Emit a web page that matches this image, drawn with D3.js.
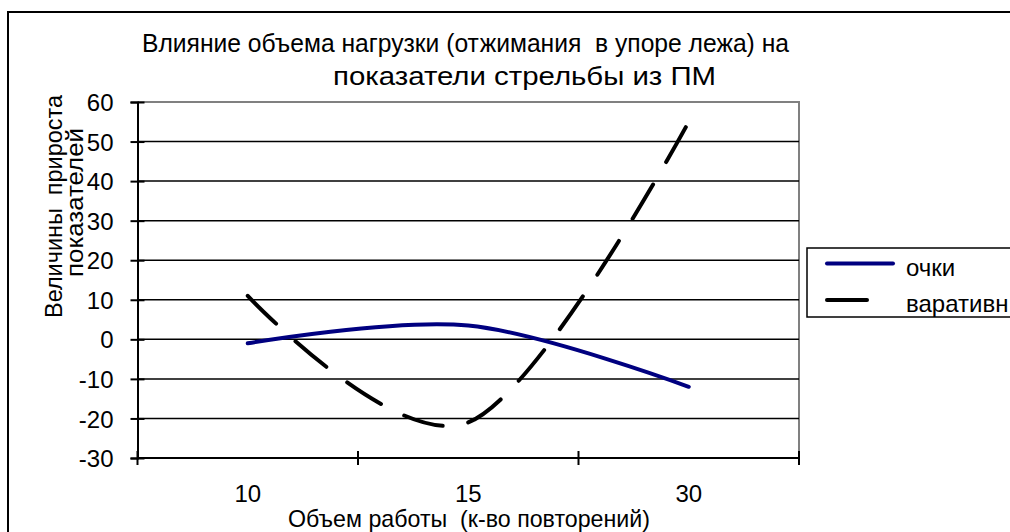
<!DOCTYPE html>
<html>
<head>
<meta charset="utf-8">
<script src="https://cdn.jsdelivr.net/npm/d3@7"></script>
<style>
  html, body { margin: 0; padding: 0; background: #fff; }
  svg { display: block; font-family: "Liberation Sans", Arial, sans-serif; }
  svg text { white-space: pre; }
</style>
</head>
<body>
<svg id="chart" width="1010" height="532"></svg>
<script>
// Categories (number of repetitions) and the two series
const categories = ["10", "15", "30"];
const ochki = [-1, 3.5, -12];
const varativn = [11, -21, 55];
const seriesNames = ["очки", "варативн"];
const yTicks = [-30, -20, -10, 0, 10, 20, 30, 40, 50, 60];

const titleLines = ["Влияние объема нагрузки (отжимания  в упоре лежа) на", "показатели стрельбы из ПМ"];
const yTitleLines = ["Величины  прироста", "показателей"];
const xTitle = "Объем работы  (к-во повторений)";

const svg = d3.select("#chart");

// plot area
const plot = { left: 137.5, right: 799, top: 102, bottom: 458 };

const x = d3.scaleBand().domain(categories).range([plot.left, plot.right]).padding(0);
const y = d3.scaleLinear().domain([-30, 60]).range([plot.bottom, plot.top]);
const cx = c => x(c) + x.bandwidth() / 2;

// outer chart frame
svg.append("rect")
  .attr("x", 8).attr("y", 12)
  .attr("width", 1030).attr("height", 560)
  .attr("fill", "none").attr("stroke", "#000").attr("stroke-width", 2);

// title
const titlePos = [{ x: 142, y: 52, len: 647 }, { x: 333, y: 85, len: 383 }];
svg.selectAll("text.title").data(titleLines).join("text")
  .attr("class", "title")
  .attr("x", (d, i) => titlePos[i].x)
  .attr("y", (d, i) => titlePos[i].y)
  .attr("textLength", (d, i) => titlePos[i].len)
  .attr("lengthAdjust", "spacingAndGlyphs")
  .attr("font-size", 26)
  .attr("fill", "#000")
  .text(d => d);

// plot area frame (grey, top and right)
svg.append("path")
  .attr("d", `M${plot.left},${plot.top}H${plot.right}V${plot.bottom}`)
  .attr("fill", "none").attr("stroke", "#808080").attr("stroke-width", 2);

// horizontal gridlines
svg.append("g")
  .selectAll("line")
  .data(yTicks.filter(t => t > -30 && t < 60))
  .join("line")
  .attr("x1", plot.left).attr("x2", plot.right)
  .attr("y1", d => y(d)).attr("y2", d => y(d))
  .attr("stroke", "#000").attr("stroke-width", 1.5);

// y axis with crossing tick marks
const yAxis = d3.axisLeft(y).tickValues(yTicks).tickSize(7).tickFormat(d => String(d));
const gy = svg.append("g").attr("transform", `translate(${plot.left},0)`).call(yAxis);
gy.select(".domain").attr("stroke", "#000").attr("stroke-width", 2);
gy.selectAll(".tick line").attr("x2", -7).attr("x1", 7).attr("stroke", "#000").attr("stroke-width", 2);
gy.selectAll(".tick text")
  .attr("font-size", 24).attr("font-family", "Liberation Sans, Arial, sans-serif")
  .attr("fill", "#000").attr("x", -24).attr("dy", "0.36em");

// x axis: ticks on category boundaries, labels at category centers
const xBounds = categories.map(c => x(c)).concat([x(categories[categories.length - 1]) + x.bandwidth()]);
const gx = svg.append("g");
gx.append("line")
  .attr("x1", plot.left).attr("x2", plot.right)
  .attr("y1", plot.bottom).attr("y2", plot.bottom)
  .attr("stroke", "#000").attr("stroke-width", 2);
gx.selectAll("line.tick").data(xBounds).join("line")
  .attr("class", "tick")
  .attr("x1", d => d).attr("x2", d => d)
  .attr("y1", plot.bottom - 7).attr("y2", plot.bottom + 7)
  .attr("stroke", "#000").attr("stroke-width", 2);
gx.selectAll("text").data(categories).join("text")
  .attr("x", d => cx(d)).attr("y", 502)
  .attr("text-anchor", "middle")
  .attr("font-size", 24).attr("fill", "#000")
  .text(d => d);

// axis titles
svg.append("text")
  .attr("x", 288).attr("y", 527)
  .attr("textLength", 362).attr("lengthAdjust", "spacingAndGlyphs")
  .attr("font-size", 24).attr("fill", "#000")
  .text(xTitle);

const yTitlePos = [{ x: 61.5, y0: 318, len: 223 }, { x: 83, y0: 277, len: 149 }];
svg.selectAll("text.ytitle").data(yTitleLines).join("text")
  .attr("class", "ytitle")
  .attr("transform", (d, i) => `translate(${yTitlePos[i].x},${yTitlePos[i].y0}) rotate(-90)`)
  .attr("textLength", (d, i) => yTitlePos[i].len)
  .attr("lengthAdjust", "spacingAndGlyphs")
  .attr("font-size", 24).attr("fill", "#000")
  .text(d => d);

// smoothed series lines (uniform Catmull-Rom spline)
const line = d3.line()
  .x((d, i) => cx(categories[i]))
  .y(d => y(d))
  .curve(d3.curveCatmullRom.alpha(0));

svg.append("path")
  .attr("d", line(ochki))
  .attr("fill", "none").attr("stroke", "#000080")
  .attr("stroke-width", 4).attr("stroke-linecap", "round");

svg.append("path")
  .attr("d", line(varativn))
  .attr("fill", "none").attr("stroke", "#000")
  .attr("stroke-width", 4).attr("stroke-linecap", "round")
  .attr("stroke-dasharray", "40 26");

// legend
const legend = svg.append("g");
legend.append("rect")
  .attr("x", 807).attr("y", 248).attr("width", 220).attr("height", 69)
  .attr("fill", "#fff").attr("stroke", "#000").attr("stroke-width", 1.5);
const legendStyle = [
  { color: "#000080", dash: null, x2: 893, y: 263.5 },
  { color: "#000", dash: "40 26", x2: 869, y: 300 }
];
seriesNames.forEach((name, i) => {
  const s = legendStyle[i];
  legend.append("line")
    .attr("x1", 827).attr("x2", s.x2).attr("y1", s.y).attr("y2", s.y)
    .attr("stroke", s.color).attr("stroke-width", 4).attr("stroke-linecap", "round")
    .attr("stroke-dasharray", s.dash);
  legend.append("text")
    .attr("x", 906).attr("y", s.y + 12)
    .attr("font-size", 24).attr("fill", "#000")
    .text(name);
});
</script>
</body>
</html>
